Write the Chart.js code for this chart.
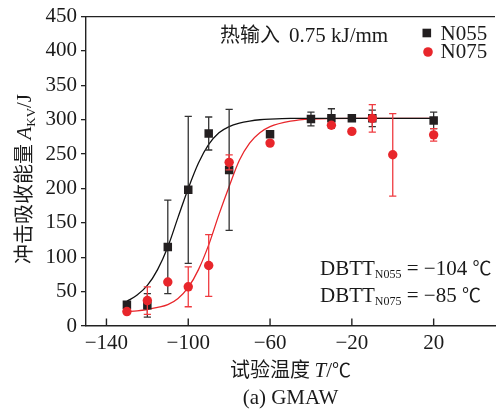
<!DOCTYPE html>
<html><head><meta charset="utf-8">
<script src="https://cdn.jsdelivr.net/npm/chart.js@4.4.1/dist/chart.umd.min.js"></script>
<style>html,body{margin:0;padding:0;background:#fff}#wrap{width:501px;height:412px;position:relative}</style>
</head><body><div id="wrap"><canvas id="c" width="501" height="412"></canvas></div>
<script>
// ---- data ----
const tempN055 = [-130, -120, -110, -100, -90, -80, -60, -40, -30, -20, -10, 20];
const akvN055  = [31, 30, 115, 198, 280, 227, 279, 301, 302, 302, 302, 299];
const errN055  = [4, 17, 68, 107, 24, 88, 0, 10, 14, 3, 12, 12];
const tempN075 = [-130, -120, -110, -100, -90, -80, -60, -30, -20, -10, 0, 20];
const akvN075  = [21, 37, 64, 57, 88, 238, 266, 292, 283, 302, 249, 278];
const errN075  = [0, 20, 0, 29, 45, 11, 0, 0, 0, 20, 60, 9];
// fitted curves
const fitT    = [-130, -125, -120, -115, -110, -105, -100, -95, -90, -85, -80, -75, -70, -65, -60, -50, -40, -20, 0, 20];
const fitN055 = [36, 45, 59, 82, 115, 158, 200, 237, 264, 281, 290, 295, 298, 300, 301, 302, 302, 302, 302, 302];
const fitN075 = [21, 22, 24, 27, 31, 40, 56, 82, 118, 162, 203, 241, 266, 281, 290, 298, 301, 302, 302, 302];
const xTicks = [-140, -100, -60, -20, 20];
const yTicks = [0, 50, 100, 150, 200, 250, 300, 350, 400, 450];
const seriesNames = ['N055', 'N075'];

const serif = '"Liberation Serif", "Times New Roman", serif';
const cjk = '"Noto Sans CJK SC", sans-serif';
const BLACK = '#231f20', RED = '#e8262b', AXIS = '#222';
const pts = (xs, ys) => xs.map((x, i) => ({x: x, y: ys[i]}));
const minus = v => String(v).replace('-', '\u2212');

const errorBars = {
  id: 'errorBars',
  beforeDatasetDraw(chart, args) {
    const ds = chart.data.datasets[args.index];
    if (!ds.errors) return;
    const y = chart.scales.y, c = chart.ctx;
    c.save(); c.strokeStyle = ds.errorColor; c.lineWidth = 1.3;
    args.meta.data.forEach((pt, i) => {
      const e = ds.errors[i]; if (!e) return;
      const v = ds.data[i].y;
      const t = y.getPixelForValue(v + e), b = y.getPixelForValue(v - e);
      c.beginPath();
      c.moveTo(pt.x, t); c.lineTo(pt.x, b);
      c.moveTo(pt.x - 3.6, t); c.lineTo(pt.x + 3.6, t);
      c.moveTo(pt.x - 3.6, b); c.lineTo(pt.x + 3.6, b);
      c.stroke();
    });
    c.restore();
  }
};

function drawRuns(c, runs, x, y) {
  // runs: [text, font, dy]
  let cx = x;
  runs.forEach(r => { c.font = r[1]; c.fillText(r[0], cx, y + (r[2] || 0)); cx += c.measureText(r[0]).width; });
  return cx;
}
function runsWidth(c, runs) {
  let w = 0; runs.forEach(r => { c.font = r[1]; w += c.measureText(r[0]).width; }); return w;
}

const decor = {
  id: 'decor',
  afterDraw(chart) {
    const c = chart.ctx, a = chart.chartArea, xs = chart.scales.x;
    c.save();
    // top frame line
    c.strokeStyle = AXIS; c.lineWidth = 1.4;
    c.beginPath(); c.moveTo(a.left, a.top); c.lineTo(a.right, a.top); c.stroke();
    // inward x tick marks
    xTicks.forEach(v => {
      const px = xs.getPixelForValue(v);
      c.beginPath(); c.moveTo(px, a.bottom); c.lineTo(px, a.bottom - 7.5); c.stroke();
    });
    c.fillStyle = '#1a1a1a'; c.textBaseline = 'alphabetic'; c.textAlign = 'left';
    // annotation
    c.font = '20px ' + cjk; c.fillText('热输入', 220, 42);
    c.font = '21px ' + serif; c.fillText('0.75 kJ/mm', 289, 42);
    // legend
    const d = chart.data.datasets;
    c.fillStyle = d[1].backgroundColor; c.fillRect(422.5, 28.7, 8.6, 8.6);
    c.fillStyle = d[0].backgroundColor; c.beginPath(); c.arc(428, 52, 4.8, 0, Math.PI * 2); c.fill();
    c.fillStyle = '#1a1a1a'; c.font = '21px ' + serif;
    c.fillText(d[1].label, 440.5, 39.5);
    c.fillText(d[0].label, 440.5, 57.5);
    // DBTT
    drawRuns(c, [['DBTT', '21px ' + serif], ['N055', '12px ' + serif, 3], [' = \u2212104 ', '21px ' + serif], ['\u2103', '19px ' + cjk]], 320, 275);
    drawRuns(c, [['DBTT', '21px ' + serif], ['N075', '12px ' + serif, 3], [' = \u221285 ', '21px ' + serif], ['\u2103', '19px ' + cjk]], 320, 301.5);
    // x title
    const xr = [['试验温度 ', '20px ' + cjk], ['T', 'italic 21px ' + serif], ['/', '21px ' + serif], ['\u2103', '19px ' + cjk]];
    const cxm = (a.left + a.right) / 2;
    drawRuns(c, xr, cxm - runsWidth(c, xr) / 2, 377);
    // caption
    c.font = '21px ' + serif; c.textAlign = 'center'; c.fillText('(a) GMAW', cxm, 404);
    c.textAlign = 'left';
    // y title (rotated)
    const yr = [['冲击吸收能量 ', '20px ' + cjk], ['A', 'italic 21px ' + serif], ['KV', '13px ' + serif, 4], ['/J', '21px ' + serif]];
    c.translate(24, 179); c.rotate(-Math.PI / 2);
    drawRuns(c, yr, -runsWidth(c, yr) / 2, 7);
    c.restore();
  }
};

new Chart(document.getElementById('c'), {
  data: {
    datasets: [
      {type: 'scatter', label: seriesNames[1], data: pts(tempN075, akvN075), errors: errN075, errorColor: '#ef3b40',
       pointStyle: 'circle', pointRadius: 4.7, backgroundColor: RED, borderColor: RED, borderWidth: 0},
      {type: 'scatter', label: seriesNames[0], data: pts(tempN055, akvN055), errors: errN055, errorColor: '#333',
       pointStyle: 'rect', pointRadius: 6, backgroundColor: BLACK, borderColor: BLACK, borderWidth: 0},
      {type: 'line', label: 'fit N055', data: pts(fitT, fitN055), borderColor: '#111', borderWidth: 1.3,
       pointRadius: 0, cubicInterpolationMode: 'monotone', fill: false},
      {type: 'line', label: 'fit N075', data: pts(fitT, fitN075), borderColor: RED, borderWidth: 1.3,
       pointRadius: 0, cubicInterpolationMode: 'monotone', fill: false}
    ]
  },
  options: {
    responsive: false, animation: false, devicePixelRatio: 1,
    layout: {padding: {top: 16, left: 0, right: 0, bottom: 0}},
    plugins: {legend: {display: false}, tooltip: {enabled: false}},
    scales: {
      x: {type: 'linear', min: -150, max: 50,
          afterBuildTicks: s => { s.ticks = xTicks.map(v => ({value: v})); },
          afterFit: s => { s.height = 86; },
          ticks: {font: {family: serif, size: 21}, color: '#1a1a1a', padding: 5, maxRotation: 0, callback: v => minus(v)},
          grid: {display: true, drawOnChartArea: false, drawTicks: false, color: AXIS},
          border: {display: true, color: AXIS, width: 1.4}},
      y: {type: 'linear', min: 0, max: 450,
          afterBuildTicks: s => { s.ticks = yTicks.map(v => ({value: v})); },
          afterFit: s => { s.width = 86; },
          ticks: {font: {family: serif, size: 21}, color: '#1a1a1a', padding: 4, callback: v => minus(v)},
          grid: {display: true, drawOnChartArea: false, drawTicks: true, tickLength: 5, color: AXIS, lineWidth: 1.3},
          border: {display: true, color: AXIS, width: 1.4}}
    }
  },
  plugins: [errorBars, decor]
});
</script></body></html>
